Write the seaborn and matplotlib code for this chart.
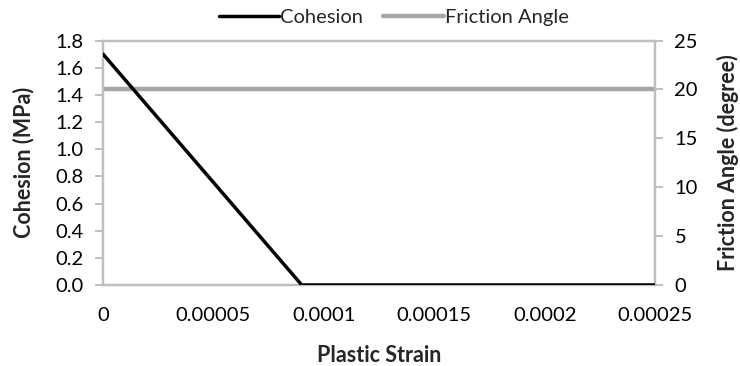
import matplotlib
matplotlib.use("Agg")
import matplotlib.pyplot as plt
import seaborn as sns
import pandas as pd
from matplotlib.ticker import FixedLocator, FixedFormatter

# Data
cohesion_strain = [0.0, 0.00009, 0.00025]
cohesion_mpa = [1.7, 0.0, 0.0]
friction_strain = [0.0, 0.00025]
friction_deg = [20.0, 20.0]

x_ticks = [0, 0.00005, 0.0001, 0.00015, 0.0002, 0.00025]
x_tick_labels = ["0", "0.00005", "0.0001", "0.00015", "0.0002", "0.00025"]
left_ticks = [0.0, 0.2, 0.4, 0.6, 0.8, 1.0, 1.2, 1.4, 1.6, 1.8]
right_ticks = [0, 5, 10, 15, 20, 25]

sns.set_theme(style="white")
plt.rcParams["font.family"] = ["Lato", "DejaVu Sans"]

cohesion_df = pd.DataFrame({"strain": cohesion_strain, "value": cohesion_mpa})
friction_df = pd.DataFrame({"strain": friction_strain, "value": friction_deg})

fig = plt.figure(figsize=(7.4, 3.66), dpi=100)
ax = fig.add_axes([0.1392, 0.2213, 0.746, 0.668])
ax2 = ax.twinx()

spine_color = "#BFBFBF"
black = "#000000"
gray = "#A6A6A6"
tick_fs = 14.5
label_fs = 15.5

sns.lineplot(data=cohesion_df, x="strain", y="value", ax=ax, color=black,
             linewidth=2.5, label="Cohesion", legend=False, zorder=3)
sns.lineplot(data=friction_df, x="strain", y="value", ax=ax2, color=gray,
             linewidth=3.2, label="Friction Angle", legend=False, zorder=2)

ax.set_xlim(0, 0.00025)
ax.set_ylim(0, 1.8)
ax2.set_ylim(0, 25)

ax.xaxis.set_major_locator(FixedLocator(x_ticks))
ax.xaxis.set_major_formatter(FixedFormatter(x_tick_labels))
ax.set_yticks(left_ticks)
ax.set_yticklabels([f"{v:.1f}" for v in left_ticks])
ax2.set_yticks(right_ticks)
ax2.set_yticklabels([str(v) for v in right_ticks])

for a in (ax, ax2):
    for s in a.spines.values():
        s.set_color(spine_color)
        s.set_linewidth(1.6)
    a.tick_params(axis="both", which="major", direction="out", length=5.5,
                  width=1.4, color=spine_color, labelsize=tick_fs,
                  labelcolor="black", pad=8.5)
ax.tick_params(axis="x", pad=10)

ax.set_xlabel("Plastic Strain", fontsize=label_fs, fontweight="bold")
ax.set_ylabel("Cohesion (MPa)", fontsize=label_fs, fontweight="bold")
ax2.set_ylabel("Friction Angle (degree)", fontsize=label_fs, fontweight="bold",
               rotation=90)
ax.xaxis.set_label_coords(0.5, -0.245)
ax.yaxis.set_label_coords(-0.125, 0.5)
ax2.yaxis.set_label_coords(1.113, 0.5)

ax.set_zorder(ax2.get_zorder() + 1)
ax.patch.set_visible(False)

h1, l1 = ax.get_legend_handles_labels()
h2, l2 = ax2.get_legend_handles_labels()
fig.legend(h1 + h2, l1 + l2, loc="center", bbox_to_anchor=(0.532, 0.951),
           ncol=2, frameon=False, fontsize=tick_fs, handlelength=3.0,
           handletextpad=0.05, columnspacing=1.0, borderpad=0)

fig.savefig("out.png", dpi=100)
